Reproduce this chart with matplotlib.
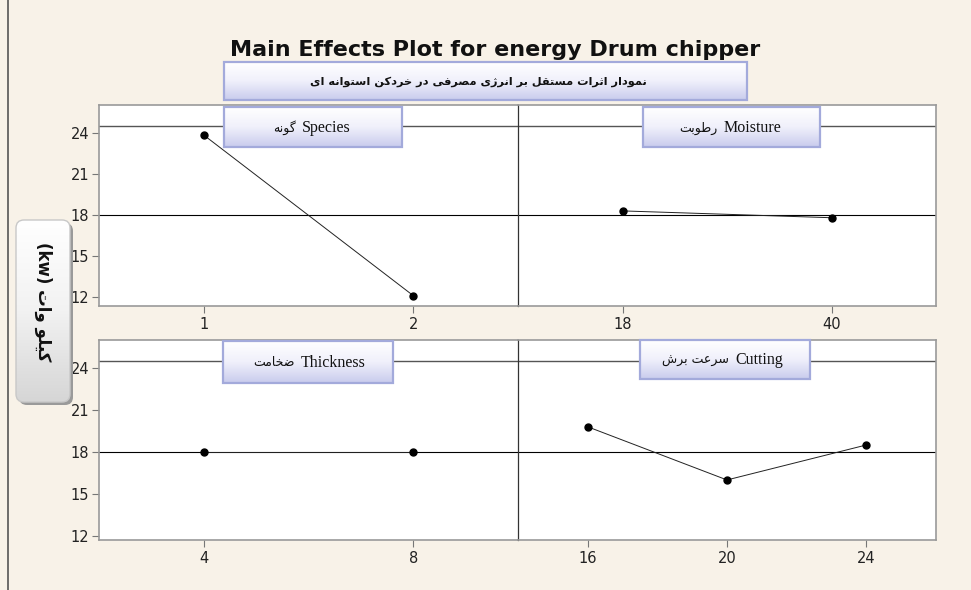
import numpy as np
import matplotlib
matplotlib.use('Agg')
import matplotlib.pyplot as plt
from matplotlib.colors import LinearSegmentedColormap
from matplotlib.patches import Rectangle, FancyBboxPatch
from matplotlib.lines import Line2D

# Data (means)
species_levels = ['1', '2']
species_means = [23.85, 12.1]
moisture_levels = ['18', '40']
moisture_means = [18.3, 17.8]
thickness_levels = ['4', '8']
thickness_means = [18.0, 18.0]
cutting_levels = ['16', '20', '24']
cutting_means = [19.8, 16.0, 18.5]
grand_mean = 18.0
y_ticks = [12, 15, 18, 21, 24]

title = 'Main Effects Plot for energy Drum chipper'
subtitle = 'نمودار اثرات مستقل بر انرژی مصرفی در خردکن استوانه ای'
y_label_fa = 'کیلو وات'
panel_names = ['Species', 'Moisture', 'Thickness', 'Cutting']
panel_names_fa = ['گونه', 'رطوبت', 'ضخامت', 'سرعت برش']

# --- tiny Persian shaper (matplotlib has no RTL/joining support) ---
AR = {'ا': (0xFE8D, False), 'ب': (0xFE8F, True), 'ت': (0xFE95, True), 'ث': (0xFE99, True),
      'خ': (0xFEA5, True), 'د': (0xFEA9, False), 'ر': (0xFEAD, False), 'س': (0xFEB1, True),
      'ش': (0xFEB5, True), 'ص': (0xFEB9, True), 'ض': (0xFEBD, True), 'ط': (0xFEC1, True),
      'ع': (0xFEC9, True), 'ف': (0xFED1, True), 'ق': (0xFED5, True), 'ل': (0xFEDD, True),
      'م': (0xFEE1, True), 'ن': (0xFEE5, True), 'ه': (0xFEE9, True), 'و': (0xFEED, False),
      'ژ': (0xFB8A, False), 'ک': (0xFB8E, True), 'گ': (0xFB92, True)}
YEH = [0xFEEF, 0xFEF0, 0xFEF3, 0xFEF4]  # Persian yeh: iso, fin, ini, med


def is_ar(c):
    return c in AR or c == 'ی'


def dual(c):
    return c == 'ی' or (c in AR and AR[c][1])


def shape(s):
    out = []
    for i, c in enumerate(s):
        if not is_ar(c):
            out.append(c)
            continue
        jp = i > 0 and is_ar(s[i - 1]) and dual(s[i - 1])
        jn = dual(c) and i + 1 < len(s) and is_ar(s[i + 1])
        k = 3 if (jp and jn) else 1 if jp else 2 if jn else 0
        if c == 'ی':
            out.append(chr(YEH[k]))
        else:
            out.append(chr(AR[c][0] + k))
    return ''.join(reversed(out))


W, H = 971, 590
bg = '#f8f2e8'
fig = plt.figure(figsize=(W / 100, H / 100), dpi=100, facecolor=bg)

# axes in pixel boxes (left, top, right, bottom)
boxes = [(99, 105, 518, 306), (518, 105, 936, 306), (99, 340, 518, 540), (518, 340, 936, 540)]
levels = [species_levels, moisture_levels, thickness_levels, cutting_levels]
means = [species_means, moisture_means, thickness_means, cutting_means]
ylims = [(11.34, 26.05), (11.34, 26.05), (11.71, 26.0), (11.71, 26.0)]

for i, (l, t, r, b) in enumerate(boxes):
    ax = fig.add_axes([l / W, (H - b) / H, (r - l) / W, (b - t) / H])
    ax.set_facecolor('white')
    x = np.arange(1, len(levels[i]) + 1)
    ax.axhline(grand_mean, color='black', lw=0.8, zorder=1)
    ax.axhline(24.5, color='#555555', lw=1.0, zorder=1)
    ax.plot(x, means[i], color='#222222', lw=0.7, marker='o', ms=5, mfc='black', mec='black', zorder=3)
    ax.set_xlim(0.5, len(levels[i]) + 0.5)
    ax.set_ylim(*ylims[i])
    ax.set_xticks(x)
    ax.set_xticklabels(levels[i])
    ax.set_yticks(y_ticks)
    for s in ax.spines.values():
        s.set_color('#9a9a9a')
        s.set_linewidth(1.2)
    if i % 2 == 0:
        ax.spines['right'].set_visible(False)
        ax.tick_params(axis='y', length=5, color='#777777', labelsize=10.5, labelcolor='#222222', pad=2)
    else:
        ax.spines['left'].set_color('#333333')
        ax.spines['left'].set_linewidth(0.9)
        ax.tick_params(axis='y', left=False, labelleft=False)
    ax.tick_params(axis='x', length=5, color='#777777', labelsize=10.5, labelcolor='#222222', pad=3)

# overlay for title, label boxes
ov = fig.add_axes([0, 0, 1, 1], zorder=10)
ov.set_facecolor('none')
ov.axis('off')

blue_cm = LinearSegmentedColormap.from_list('bl', ['#ffffff', '#f0f0fb', '#c9cced'])
grey_cm = LinearSegmentedColormap.from_list('gr', ['#ffffff', '#f2f2f2', '#d6d6d6'])
grad = np.linspace(0, 1, 64).reshape(-1, 1)


def grad_box(x0, y0, x1, y1):
    ov.imshow(grad, cmap=blue_cm, extent=(x0, x1, y1, y0), aspect='auto', zorder=1)
    ov.add_patch(Rectangle((x0, y0), x1 - x0, y1 - y0, fill=False, ec='#a3aadb', lw=1.6, zorder=2))


ov.text(495, 50, title, ha='center', va='center', fontsize=16, fontweight='bold', color='#111111')

grad_box(224, 62, 747, 100)
ov.text(478, 82, shape(subtitle), ha='center', va='center', fontsize=8.2, fontweight='bold',
        family='DejaVu Sans', color='#111111')

label_boxes = [(224, 107, 402, 147, 299), (643, 107, 820, 147, 721),
               (223, 341, 393, 383, 298), (640, 340, 810, 379, 732)]
for (x0, y0, x1, y1, split), name, name_fa in zip(label_boxes, panel_names, panel_names_fa):
    grad_box(x0, y0, x1, y1)
    yc = (y0 + y1) / 2 + 1
    ov.text(split - 3, yc, shape(name_fa), ha='right', va='center', fontsize=9, family='DejaVu Sans',
            color='#111111')
    ov.text(split + 3, yc, name, ha='left', va='center', fontsize=11.5, family='Liberation Serif',
            color='#111111')

# y-axis label box
shadow = FancyBboxPatch((19, 223), 54, 182, boxstyle='round,pad=0,rounding_size=8',
                        fc='#9a9a9a', ec='none', zorder=1)
ov.add_patch(shadow)
ylab = FancyBboxPatch((16, 220), 54, 182, boxstyle='round,pad=0,rounding_size=8',
                      fc='none', ec='#c8c8c8', lw=1, zorder=3)
ov.add_patch(ylab)
im = ov.imshow(grad, cmap=grey_cm, extent=(16, 70, 402, 220), aspect='auto', zorder=2)
im.set_clip_path(ylab)
ov.text(43, 302, '(kw) ' + shape(y_label_fa), ha='center', va='center', rotation=-90,
        fontsize=12, fontweight='bold', family='DejaVu Sans', color='#111111', zorder=4)

ov.add_line(Line2D([8, 8], [0, H], color='#555555', lw=1.2))

ov.set_xlim(0, W)
ov.set_ylim(H, 0)

fig.savefig('out.png', dpi=100, facecolor=bg)
